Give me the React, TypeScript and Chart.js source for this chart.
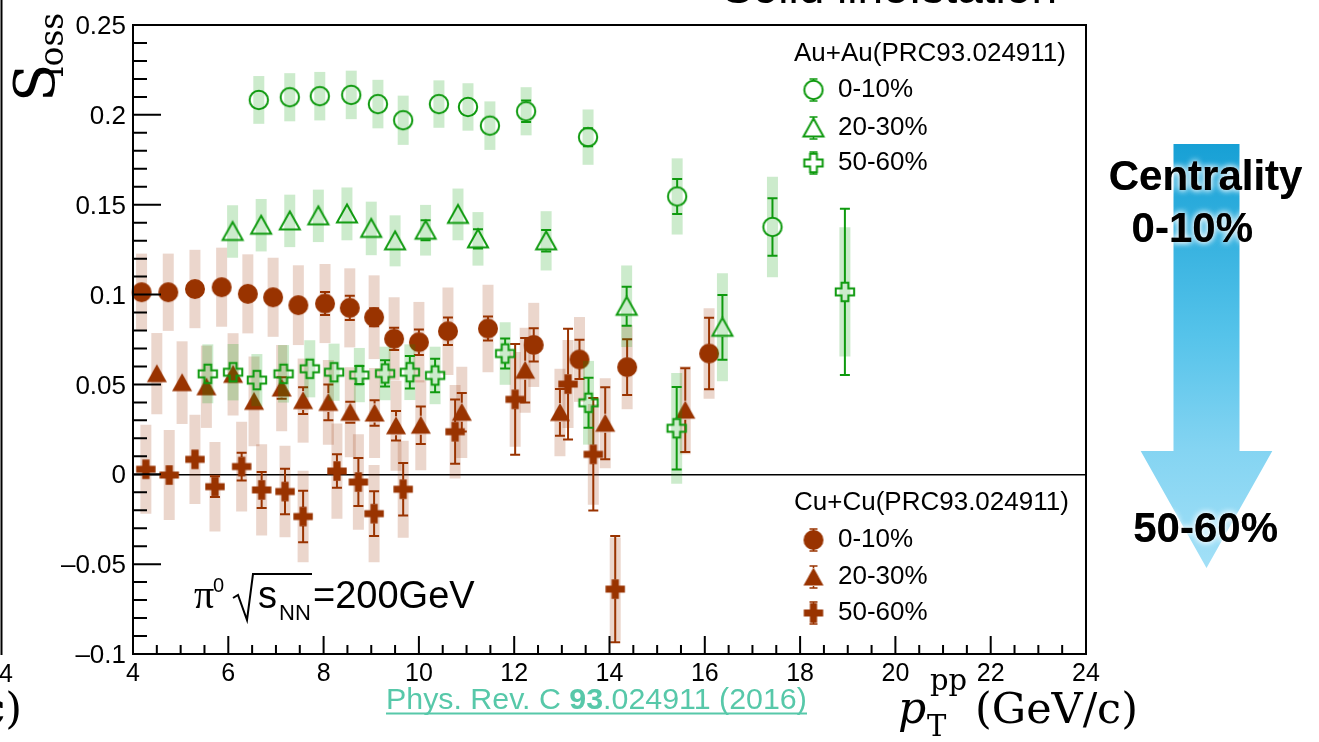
import React, { useEffect, useRef } from 'react';
import { Chart, registerables } from 'chart.js';

Chart.register(...registerables);

// ---------------- data ----------------
// Au+Au 0-10% (open circles)
const AU_0_10_X = [6.64, 7.29, 7.92, 8.58, 9.14, 9.67, 10.42, 11.03, 11.49, 12.25, 13.55, 15.42, 17.42];
const AU_0_10_Y = [0.2083, 0.2098, 0.2104, 0.2111, 0.206, 0.197, 0.206, 0.2044, 0.194, 0.202, 0.1876, 0.1546, 0.1376];
const AU_0_10_STAT = [0.003, 0.003, 0.003, 0.003, 0.003, 0.003, 0.004, 0.004, 0.004, 0.006, 0.005, 0.0097, 0.016];
const AU_0_10_SYS = [0.0133, 0.0134, 0.0135, 0.0135, 0.0135, 0.0137, 0.0132, 0.0132, 0.0135, 0.0134, 0.0154, 0.0212, 0.028];

// Au+Au 20-30% (open triangles)
const AU_20_30_X = [6.09, 6.69, 7.29, 7.89, 8.49, 9.0, 9.5, 10.14, 10.82, 11.24, 12.67, 14.36, 16.37];
const AU_20_30_Y = [0.1351, 0.1386, 0.141, 0.1438, 0.1449, 0.1368, 0.1299, 0.1358, 0.1446, 0.131, 0.1299, 0.0935, 0.0818];
const AU_20_30_STAT = [0.003, 0.003, 0.003, 0.003, 0.003, 0.003, 0.003, 0.0056, 0.003, 0.0054, 0.006, 0.0108, 0.018];
const AU_20_30_SYS = [0.0146, 0.0146, 0.0146, 0.0146, 0.0147, 0.0149, 0.0142, 0.0141, 0.0144, 0.0149, 0.0165, 0.0227, 0.03];

// Au+Au 50-60% (open crosses)
const AU_50_60_X = [5.57, 6.1, 6.6, 7.16, 7.71, 8.22, 8.75, 9.29, 9.81, 10.34, 11.81, 13.56, 15.41, 18.94];
const AU_50_60_Y = [0.0559, 0.0568, 0.0524, 0.0559, 0.0587, 0.0568, 0.0552, 0.0561, 0.0568, 0.055, 0.0672, 0.0398, 0.0256, 0.1015];
const AU_50_60_STAT = [0.003, 0.003, 0.003, 0.003, 0.003, 0.003, 0.005, 0.0073, 0.009, 0.0093, 0.0084, 0.0139, 0.0229, 0.0462];
const AU_50_60_SYS = [0.0164, 0.0157, 0.0145, 0.016, 0.0159, 0.0159, 0.0151, 0.0149, 0.0155, 0.016, 0.0174, 0.0233, 0.0308, 0.036];

// Cu+Cu 0-10% (filled circles)
const CU_0_10_X = [4.18, 4.74, 5.3, 5.86, 6.41, 6.94, 7.47, 8.03, 8.55, 9.06, 9.48, 10.0, 10.61, 11.45, 12.41, 13.37, 14.37, 16.09];
const CU_0_10_Y = [0.1013, 0.1013, 0.1031, 0.1041, 0.1004, 0.0985, 0.0941, 0.095, 0.0926, 0.0874, 0.0754, 0.0735, 0.0796, 0.0811, 0.072, 0.0639, 0.0596, 0.0672];
const CU_0_10_STAT = [0.003, 0.003, 0.003, 0.003, 0.003, 0.004, 0.004, 0.0064, 0.0068, 0.005, 0.0062, 0.0071, 0.0077, 0.0067, 0.0093, 0.0109, 0.0155, 0.0199];
const CU_0_10_SYS = [0.0215, 0.0215, 0.0218, 0.022, 0.022, 0.022, 0.0222, 0.022, 0.022, 0.0233, 0.0231, 0.0224, 0.0243, 0.0243, 0.0234, 0.0236, 0.0234, 0.0252];

// Cu+Cu 20-30% (filled triangles)
const CU_20_30_X = [4.5, 5.03, 5.54, 6.1, 6.54, 7.12, 7.57, 8.1, 8.56, 9.07, 9.52, 10.04, 10.9, 12.23, 12.96, 13.91, 15.59];
const CU_20_30_Y = [0.056, 0.051, 0.0487, 0.0556, 0.0406, 0.048, 0.041, 0.04, 0.0345, 0.0341, 0.027, 0.0273, 0.0345, 0.0579, 0.0344, 0.0284, 0.0357];
const CU_20_30_STAT = [0.003, 0.003, 0.003, 0.004, 0.003, 0.006, 0.0074, 0.01, 0.0058, 0.0071, 0.0082, 0.0104, 0.0107, 0.018, 0.013, 0.02, 0.0233];
const CU_20_30_SYS = [0.0226, 0.023, 0.0229, 0.0229, 0.025, 0.024, 0.0234, 0.0236, 0.025, 0.025, 0.025, 0.025, 0.0254, 0.0236, 0.0243, 0.025, 0.0246];

// Cu+Cu 50-60% (filled crosses)
const CU_50_60_X = [4.27, 4.76, 5.3, 5.72, 6.28, 6.7, 7.19, 7.57, 8.28, 8.73, 9.06, 9.67, 10.76, 12.02, 13.13, 13.66, 14.12];
const CU_50_60_Y = [0.0028, -0.0004, 0.0083, -0.0069, 0.0043, -0.0087, -0.0096, -0.0235, 0.0018, -0.0043, -0.0219, -0.0083, 0.0237, 0.0417, 0.0502, 0.0111, -0.0639];
const CU_50_60_STAT = [0.003, 0.003, 0.003, 0.0058, 0.0077, 0.01, 0.0127, 0.0143, 0.0093, 0.0134, 0.0125, 0.0146, 0.0179, 0.0308, 0.0308, 0.0313, 0.0296];
const CU_50_60_SYS = [0.0248, 0.025, 0.0248, 0.0249, 0.025, 0.0254, 0.0255, 0.0254, 0.0265, 0.0266, 0.027, 0.027, 0.026, 0.0264, 0.0245, 0.028, 0.0287];

// axes
const X_TICK_VALUES = [4, 6, 8, 10, 12, 14, 16, 18, 20, 22, 24];
const X_TICK_TEXT = ['4', '6', '8', '10', '12', '14', '16', '18', '20', '22', '24'];
const Y_TICK_VALUES = [-0.1, -0.05, 0, 0.05, 0.1, 0.15, 0.2, 0.25];
const Y_TICK_TEXT = ['\u20130.1', '\u20130.05', '0', '0.05', '0.1', '0.15', '0.2', '0.25'];

// legend text
const AU_HEADER = 'Au+Au(PRC93.024911)';
const CU_HEADER = 'Cu+Cu(PRC93.024911)';
const CENTRALITY_LABELS = ['0-10%', '20-30%', '50-60%'];

// ---------------- styling ----------------
const GREEN = '#0f9a0f';
const BROWN = '#993300';
const GREEN_BOX = 'rgba(0,153,0,0.2)';
const BROWN_BOX = 'rgba(153,51,0,0.2)';
const SANS = '"Liberation Sans", Arial, Helvetica, sans-serif';
const SERIF = '"DejaVu Serif", "Liberation Serif", serif';

type Shape = 'circle' | 'triangle' | 'cross';

function makeMarker(shape: Shape, color: string, filled: boolean): HTMLCanvasElement {
  const size = 26;
  const cv = document.createElement('canvas');
  cv.width = size;
  cv.height = size;
  const g = cv.getContext('2d') as CanvasRenderingContext2D;
  const m = size / 2;
  g.beginPath();
  if (shape === 'circle') {
    g.arc(m, m, filled ? 10 : 9.2, 0, Math.PI * 2);
  } else if (shape === 'triangle') {
    g.moveTo(m, m - 9.5);
    g.lineTo(m + 10, m + 8.5);
    g.lineTo(m - 10, m + 8.5);
    g.closePath();
  } else {
    const h = filled ? 9.7 : 9.2;
    const a = filled ? 3.6 : 3.4;
    const pts = [[-a, -h], [a, -h], [a, -a], [h, -a], [h, a], [a, a], [a, h], [-a, h], [-a, a], [-h, a], [-h, -a], [-a, -a]];
    pts.forEach(([px, py], i) => (i ? g.lineTo(m + px, m + py) : g.moveTo(m + px, m + py)));
    g.closePath();
  }
  if (filled) {
    g.fillStyle = color;
    g.fill();
  } else {
    g.strokeStyle = color;
    g.lineWidth = 2;
    g.stroke();
  }
  return cv;
}

const errorBarPlugin = {
  id: 'errorBars',
  beforeDatasetDraw(chart: any, args: any) {
    const ds: any = chart.data.datasets[args.index];
    if (!ds.errY) return;
    const ctx: CanvasRenderingContext2D = chart.ctx;
    const ys = chart.scales.y;
    ctx.save();
    ctx.strokeStyle = ds.errColor;
    ctx.lineWidth = 2;
    args.meta.data.forEach((pt: any, i: number) => {
      const v = ds.data[i].y;
      const e = ds.errY[i];
      const x = pt.x;
      const y = pt.y;
      const yt = ys.getPixelForValue(v + e);
      const yb = ys.getPixelForValue(v - e);
      const gap = 9.5;
      if (y - yt < gap - 1) return;
      ctx.beginPath();
      if (y - yt > gap) {
        ctx.moveTo(x, y - gap);
        ctx.lineTo(x, yt);
        ctx.moveTo(x, y + gap);
        ctx.lineTo(x, yb);
      }
      ctx.moveTo(x - 5, yt);
      ctx.lineTo(x + 5, yt);
      ctx.moveTo(x - 5, yb);
      ctx.lineTo(x + 5, yb);
      ctx.stroke();
    });
    ctx.restore();
  },
};

function makeDecorPlugin(markers: Record<string, HTMLCanvasElement>) {
  return {
    id: 'decor',
    afterDraw(chart: any) {
      const ctx: CanvasRenderingContext2D = chart.ctx;
      const { left, right, top, bottom } = chart.chartArea;
      const xs = chart.scales.x;
      const ys = chart.scales.y;
      ctx.save();

      // frame
      ctx.strokeStyle = '#000';
      ctx.lineWidth = 2;
      ctx.strokeRect(left, top, right - left, bottom - top);

      // inside tick marks (major + minor)
      ctx.beginPath();
      for (let i = -10; i <= 25; i++) {
        const py = ys.getPixelForValue(i / 100);
        const len = i % 5 === 0 ? 28 : 14;
        ctx.moveTo(left, py);
        ctx.lineTo(left + len, py);
      }
      for (let i = 8; i <= 48; i++) {
        const px = xs.getPixelForValue(i / 2);
        const len = i % 4 === 0 ? 18 : 9;
        ctx.moveTo(px, bottom);
        ctx.lineTo(px, bottom - len);
      }
      ctx.stroke();

      // fragments of neighbouring panel
      ctx.beginPath();
      ctx.moveTo(1.5, 0);
      ctx.lineTo(1.5, 655);
      ctx.stroke();
      ctx.fillStyle = '#000';
      ctx.textBaseline = 'middle';
      ctx.textAlign = 'right';
      ctx.font = `25px ${SANS}`;
      ctx.fillText('24', 13, 675);
      ctx.textBaseline = 'alphabetic';
      ctx.font = `43px ${SERIF}`;
      ctx.fillText('(GeV/c)', 22, 723);

      // top cut text
      ctx.textAlign = 'left';
      ctx.font = `46px ${SANS}`;
      ctx.fillText('Solid line:station', 722, 3);

      // Y title S_loss (rotated)
      ctx.save();
      ctx.translate(54, 102);
      ctx.rotate(-Math.PI / 2);
      ctx.font = `56px ${SERIF}`;
      ctx.fillText('S', 0, 0);
      ctx.font = `33px ${SERIF}`;
      ctx.fillText('loss', 25, 9);
      ctx.restore();

      // X title p_T^pp (GeV/c)
      ctx.font = `italic 44px ${SERIF}`;
      ctx.fillText('p', 898, 723);
      ctx.font = `29px ${SERIF}`;
      ctx.fillText('T', 927, 736);
      ctx.fillText('pp', 930, 690);
      ctx.font = `43px ${SERIF}`;
      ctx.fillText('(GeV/c)', 975, 723);

      // pi0 sqrt(s_NN)=200GeV
      ctx.font = `40px "Liberation Serif", serif`;
      ctx.fillText('\u03c0', 194, 608);
      ctx.font = `20px ${SANS}`;
      ctx.fillText('0', 213, 592);
      ctx.lineWidth = 2;
      ctx.beginPath();
      ctx.moveTo(233, 598);
      ctx.lineTo(238, 595);
      ctx.lineTo(247, 620);
      ctx.lineTo(253, 574);
      ctx.lineTo(312, 574);
      ctx.stroke();
      ctx.font = `38px ${SANS}`;
      ctx.fillText('s', 258, 608);
      ctx.font = `22px ${SANS}`;
      ctx.fillText('NN', 279, 620);
      ctx.font = `38px ${SANS}`;
      ctx.fillText('=200GeV', 313, 608);

      // citation
      const segs: [string, string][] = [['Phys. Rev. C ', ''], ['93', 'bold '], ['.024911 (2016)', '']];
      let w28 = 0;
      segs.forEach(([t, b]) => {
        ctx.font = `${b}28px ${SANS}`;
        w28 += ctx.measureText(t).width;
      });
      const fs = (28 * 421) / w28;
      let cx = 386;
      ctx.fillStyle = '#57c8a9';
      segs.forEach(([t, b]) => {
        ctx.font = `${b}${fs}px ${SANS}`;
        ctx.fillText(t, cx, 709);
        cx += ctx.measureText(t).width;
      });
      ctx.strokeStyle = '#57c8a9';
      ctx.beginPath();
      ctx.moveTo(386, 713.5);
      ctx.lineTo(807, 713.5);
      ctx.stroke();

      // legends
      ctx.fillStyle = '#000';
      ctx.textBaseline = 'middle';
      ctx.font = `26px ${SANS}`;
      ctx.fillText(AU_HEADER, 794, 54);
      ctx.fillText(CU_HEADER, 794, 503);
      const entry = (img: HTMLCanvasElement, color: string, y: number, label: string) => {
        const x = 813.5;
        ctx.drawImage(img, x - img.width / 2, y - img.height / 2);
        ctx.strokeStyle = color;
        ctx.lineWidth = 1.5;
        ctx.beginPath();
        ctx.moveTo(x - 4, y - 11);
        ctx.lineTo(x + 4, y - 11);
        ctx.moveTo(x, y - 11);
        ctx.lineTo(x, y - 9);
        ctx.moveTo(x - 4, y + 11);
        ctx.lineTo(x + 4, y + 11);
        ctx.moveTo(x, y + 11);
        ctx.lineTo(x, y + 9);
        ctx.stroke();
        ctx.fillStyle = '#000';
        ctx.fillText(label, 838, y);
      };
      entry(markers.auCircle, GREEN, 90, CENTRALITY_LABELS[0]);
      entry(markers.auTri, GREEN, 128, CENTRALITY_LABELS[1]);
      entry(markers.auCross, GREEN, 163, CENTRALITY_LABELS[2]);
      entry(markers.cuCircle, BROWN, 540, CENTRALITY_LABELS[0]);
      entry(markers.cuTri, BROWN, 577, CENTRALITY_LABELS[1]);
      entry(markers.cuCross, BROWN, 613, CENTRALITY_LABELS[2]);

      // centrality arrow
      const grad = ctx.createLinearGradient(0, 144, 0, 568);
      grad.addColorStop(0, '#17a0d5');
      grad.addColorStop(0.45, '#55c3ea');
      grad.addColorStop(0.72, '#84d4f2');
      grad.addColorStop(1, '#a2e0f7');
      ctx.fillStyle = grad;
      ctx.beginPath();
      ctx.moveTo(1173.5, 144);
      ctx.lineTo(1239.5, 144);
      ctx.lineTo(1239.5, 451);
      ctx.lineTo(1272.3, 451);
      ctx.lineTo(1206.5, 568);
      ctx.lineTo(1140.7, 451);
      ctx.lineTo(1173.5, 451);
      ctx.closePath();
      ctx.fill();

      const glow = (t: string, x: number, y: number) => {
        ctx.save();
        ctx.shadowColor = 'rgba(255,255,255,0.95)';
        ctx.shadowBlur = 6;
        ctx.fillStyle = '#000';
        ctx.fillText(t, x, y);
        ctx.fillText(t, x, y);
        ctx.restore();
      };
      ctx.textAlign = 'center';
      ctx.textBaseline = 'alphabetic';
      ctx.font = `bold 42px ${SANS}`;
      glow('Centrality', 1205.6, 190);
      glow('0-10%', 1192.3, 242);
      glow('50-60%', 1205.6, 542);

      ctx.restore();
    },
  };
}

export default function App() {
  const ref = useRef<HTMLCanvasElement | null>(null);

  useEffect(() => {
    document.body.style.margin = '0';
    const canvas = ref.current;
    if (!canvas) return;

    const markers = {
      auCircle: makeMarker('circle', GREEN, false),
      auTri: makeMarker('triangle', GREEN, false),
      auCross: makeMarker('cross', GREEN, false),
      cuCircle: makeMarker('circle', BROWN, true),
      cuTri: makeMarker('triangle', BROWN, true),
      cuCross: makeMarker('cross', BROWN, true),
    };

    const SERIES = [
      { X: CU_50_60_X, Y: CU_50_60_Y, STAT: CU_50_60_STAT, SYS: CU_50_60_SYS, img: markers.cuCross, color: BROWN, box: BROWN_BOX, group: 0 },
      { X: CU_20_30_X, Y: CU_20_30_Y, STAT: CU_20_30_STAT, SYS: CU_20_30_SYS, img: markers.cuTri, color: BROWN, box: BROWN_BOX, group: 0 },
      { X: CU_0_10_X, Y: CU_0_10_Y, STAT: CU_0_10_STAT, SYS: CU_0_10_SYS, img: markers.cuCircle, color: BROWN, box: BROWN_BOX, group: 0 },
      { X: AU_50_60_X, Y: AU_50_60_Y, STAT: AU_50_60_STAT, SYS: AU_50_60_SYS, img: markers.auCross, color: GREEN, box: GREEN_BOX, group: 1 },
      { X: AU_20_30_X, Y: AU_20_30_Y, STAT: AU_20_30_STAT, SYS: AU_20_30_SYS, img: markers.auTri, color: GREEN, box: GREEN_BOX, group: 1 },
      { X: AU_0_10_X, Y: AU_0_10_Y, STAT: AU_0_10_STAT, SYS: AU_0_10_SYS, img: markers.auCircle, color: GREEN, box: GREEN_BOX, group: 1 },
    ];

    const datasets: any[] = [];
    SERIES.forEach((s, k) => {
      const base = s.group === 0 ? 100 : 50;
      datasets.push({
        type: 'bar',
        data: s.X.map((x, i) => ({ x, y: [s.Y[i] - s.SYS[i], s.Y[i] + s.SYS[i]] })),
        backgroundColor: s.box,
        borderWidth: 0,
        grouped: false,
        maxBarThickness: 11,
        barPercentage: 1000,
        categoryPercentage: 1,
        order: base + 20 - k,
      });
      datasets.push({
        type: 'scatter',
        data: s.X.map((x, i) => ({ x, y: s.Y[i] })),
        pointStyle: s.img,
        pointRadius: 10,
        showLine: false,
        clip: false,
        errY: s.STAT,
        errColor: s.color,
        order: base + 10 - k,
      });
    });

    Chart.defaults.font.family = SANS;

    const chart = new Chart(canvas, {
      type: 'scatter',
      data: { datasets },
      options: {
        animation: false,
        responsive: false,
        devicePixelRatio: 1,
        events: [],
        layout: { padding: { left: 53, top: 25, right: 233, bottom: 0 } },
        plugins: { legend: { display: false }, tooltip: { enabled: false } },
        scales: {
          x: {
            type: 'linear',
            min: 4,
            max: 24,
            offset: false,
            grid: { display: false, drawTicks: false },
            border: { display: false },
            ticks: {
              stepSize: 2,
              autoSkip: false,
              maxRotation: 0,
              padding: 5,
              color: '#000',
              font: { size: 25, family: SANS },
              callback: (v: any) => {
                const i = X_TICK_VALUES.findIndex((t) => Math.abs(t - v) < 1e-6);
                return i >= 0 ? X_TICK_TEXT[i] : '';
              },
            },
            afterFit: (s: any) => {
              s.height = 88;
              s.paddingLeft = 0;
              s.paddingRight = 0;
              s.paddingTop = 0;
              s.paddingBottom = 0;
            },
          },
          y: {
            type: 'linear',
            min: -0.1,
            max: 0.25,
            grid: {
              drawTicks: false,
              lineWidth: 1.5,
              color: (c: any) => (c.tick && Math.abs(c.tick.value) < 1e-9 ? '#000' : 'rgba(0,0,0,0)'),
            },
            border: { display: false },
            ticks: {
              stepSize: 0.05,
              padding: 7,
              labelOffset: 2,
              color: '#000',
              font: { size: 26, family: SANS },
              callback: (v: any) => {
                const i = Y_TICK_VALUES.findIndex((t) => Math.abs(t - v) < 1e-6);
                return i >= 0 ? Y_TICK_TEXT[i] : '';
              },
            },
            afterFit: (s: any) => {
              s.width = 80;
              s.paddingLeft = 0;
              s.paddingRight = 0;
              s.paddingTop = 0;
              s.paddingBottom = 0;
            },
          },
        },
      } as any,
      plugins: [errorBarPlugin as any, makeDecorPlugin(markers) as any],
    });

    return () => chart.destroy();
  }, []);

  return (
    <div style={{ width: 1319, height: 742, position: 'relative', background: '#fff' }}>
      <canvas ref={ref} width={1319} height={742} style={{ display: 'block' }} />
    </div>
  );
}
